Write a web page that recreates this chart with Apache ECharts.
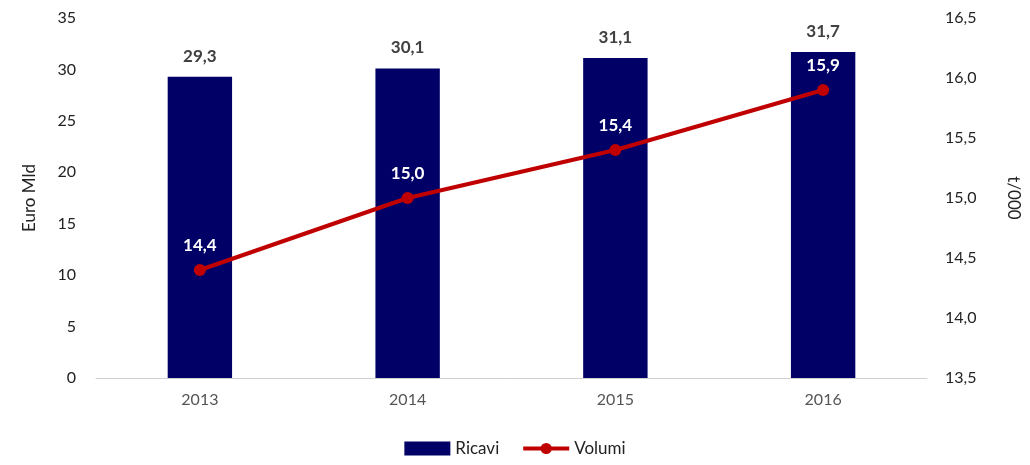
<!DOCTYPE html>
<html><head><meta charset="utf-8">
<script src="https://cdn.jsdelivr.net/npm/echarts@6/dist/echarts.min.js"></script>
<style>html,body{margin:0;padding:0;background:#fff}#c{width:1030px;height:465px}</style>
</head><body><div id="c"></div>
<script>
const categories = ['2013','2014','2015','2016'];
const ricavi = [29.3, 30.1, 31.1, 31.7];
const volumi = [14.4, 15.0, 15.4, 15.9];
const leftTicks = {min:0, max:35, interval:5};
const rightTicks = {min:13.5, max:16.5, interval:0.5};
const FONT = 'Lato, "Open Sans", sans-serif';
const fmt = v => v.toFixed(1).replace('.', ',');
const chart = echarts.init(document.getElementById('c'));
chart.setOption({
  animation:false,
  textStyle:{fontFamily:FONT},
  grid:{left:96, right:103, top:18, bottom:87, containLabel:false},
  legend:{bottom:3, left:'center', itemGap:22, itemWidth:46, itemHeight:14,
    textStyle:{fontSize:17, color:'#222', fontFamily:FONT},
    data:[{name:'Ricavi', icon:'rect'},
          {name:'Volumi', lineStyle:{width:4, color:'#C00000'}, itemStyle:{color:'#C00000'}}]},
  xAxis:{type:'category', data:categories,
    axisLine:{lineStyle:{color:'#d0d0d0'}}, axisTick:{show:false},
    axisLabel:{fontSize:16, color:'#555', margin:14, fontFamily:FONT}},
  yAxis:[
    {type:'value', min:leftTicks.min, max:leftTicks.max, interval:leftTicks.interval,
     name:'Euro Mld', nameLocation:'middle', nameRotate:90, nameGap:58,
     nameTextStyle:{fontSize:17, color:'#222', fontFamily:FONT},
     splitLine:{show:false}, axisLine:{show:false}, axisTick:{show:false},
     axisLabel:{fontSize:16, color:'#222', margin:20, fontFamily:FONT}},
    {type:'value', min:rightTicks.min, max:rightTicks.max, interval:rightTicks.interval,
     name:'t/000', nameLocation:'middle', nameRotate:-90, nameGap:78,
     nameTextStyle:{fontSize:17, color:'#222', fontFamily:FONT},
     splitLine:{show:false}, axisLine:{show:false}, axisTick:{show:false},
     axisLabel:{fontSize:16, color:'#222', margin:18, fontFamily:FONT, formatter:v=>fmt(v)}}
  ],
  series:[
    {name:'Ricavi', type:'bar', data:ricavi, barWidth:'31%', yAxisIndex:0,
     itemStyle:{color:'#000066'},
     label:{show:true, position:'top', distance:12, fontSize:17, fontWeight:'bold', color:'#404040',
       formatter:p=>fmt(p.value), fontFamily:FONT}},
    {name:'Volumi', type:'line', data:volumi, yAxisIndex:1,
     lineStyle:{color:'#C00000', width:4}, itemStyle:{color:'#C00000'},
     symbol:'circle', symbolSize:12,
     label:{show:true, position:'top', distance:10, fontSize:17, fontWeight:'bold', color:'#fff',
       formatter:p=>fmt(p.value), fontFamily:FONT}}
  ]
});
</script></body></html>
